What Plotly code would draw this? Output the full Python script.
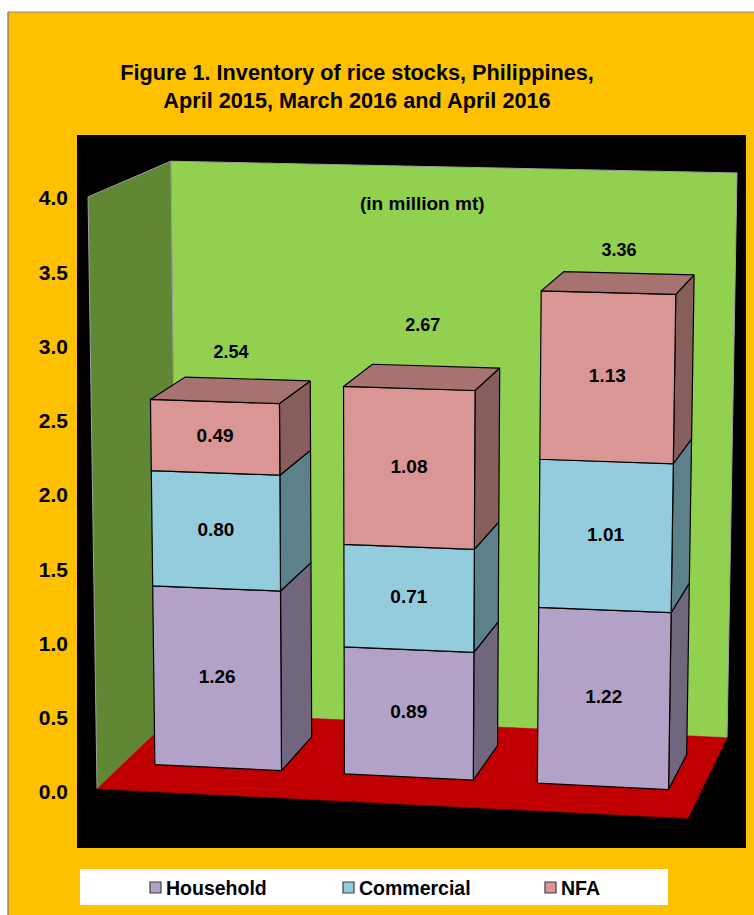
import numpy as np
import plotly.graph_objects as go

# ---------------- data ----------------
categories = ["April 2015", "March 2016", "April 2016"]
series_names = ["Household", "Commercial", "NFA"]
household = [1.26, 0.89, 1.22]
commercial = [0.80, 0.71, 1.01]
nfa = [0.49, 1.08, 1.13]
totals = [2.54, 2.67, 3.36]
y_tick_values = [0.0, 0.5, 1.0, 1.5, 2.0, 2.5, 3.0, 3.5, 4.0]
y_tick_labels = ["0.0", "0.5", "1.0", "1.5", "2.0", "2.5", "3.0", "3.5", "4.0"]
title_lines = ["Figure 1. Inventory of rice stocks, Philippines,",
               "April 2015, March 2016 and April 2016"]
unit_note = "(in million mt)"

series_values = [household, commercial, nfa]

# ---------------- styles / layout ----------------
FONT = "Liberation Sans, Arial, sans-serif"
ORANGE = "#FFC000"
FRONT = ["#B3A2C7", "#93CDDD", "#D99694"]
SIDE_F, TOP_F = 0.63, 0.77
BACK_WALL = "#92D050"
LEFT_WALL = "#5F8734"
FLOOR = "#C00000"

W, H = 754, 915
PLOT_L, PLOT_R, PLOT_T, PLOT_B = 77, 746, 135, 848
Y0_PIX, PIX_PER_UNIT = 792.0, 148.5   # y-axis: value 0 at pixel 792

# 3D scene: X in category units, Y in value units, Z depth (0 front, 1 back)
XL, XR, YTOP = -0.5, 2.5, 4.0
HW = 0.335           # half bar width (category units)
Z0, Z1 = 0.32, 0.76  # bar depth range
# projected frame corners (the box of walls and floor) used to calibrate the perspective
frame_world = [(XL, 0, 0), (XR, 0, 0), (XL, 0, 1), (XR, 0, 1),
               (XL, YTOP, 0), (XL, YTOP, 1), (XR, YTOP, 1)]
frame_screen = [(97, 788), (688, 819), (177, 713), (727, 737),
                (88, 197), (171, 161), (737, 173)]


def fit_projection(world, screen):
    cu, cv, s = 400.0, 500.0, 300.0
    rows = []
    for (X, Y, Z), (u, v) in zip(world, screen):
        un, vn = (u - cu) / s, (v - cv) / s
        rows.append([X, Y, Z, 1, 0, 0, 0, 0, -un * X, -un * Y, -un * Z, -un])
        rows.append([0, 0, 0, 0, X, Y, Z, 1, -vn * X, -vn * Y, -vn * Z, -vn])
    _, _, vt = np.linalg.svd(np.array(rows, dtype=float))
    P = vt[-1].reshape(3, 4)
    T = np.array([[s, 0, cu], [0, s, cv], [0, 0, 1.0]])
    return T @ P


PROJ = fit_projection(frame_world, frame_screen)


def project(X, Y, Z):
    h = PROJ @ np.array([X, Y, Z, 1.0])
    u, v = h[0] / h[2], h[1] / h[2]
    return u, (Y0_PIX - v) / PIX_PER_UNIT   # to axis units (x: screen px, y: value)


def shade(hex_color, f):
    r, g, b = int(hex_color[1:3], 16), int(hex_color[3:5], 16), int(hex_color[5:7], 16)
    return "rgb(%d,%d,%d)" % (r * f, g * f, b * f)


def px_x(px):
    return (px - PLOT_L) / (PLOT_R - PLOT_L)


def px_y(py):
    return (PLOT_B - py) / (PLOT_B - PLOT_T)


fig = go.Figure()


def face(pts, fill, line_color="black", width=1.2):
    xs, ys = [], []
    for p in list(pts) + [pts[0]]:
        x, y = project(*p)
        xs.append(x)
        ys.append(y)
    fig.add_trace(go.Scatter(x=xs, y=ys, mode="lines", fill="toself", fillcolor=fill,
                             line=dict(color=line_color, width=width),
                             hoverinfo="skip", showlegend=False))


# walls and floor
face([(XL, 0, 1), (XR, 0, 1), (XR, YTOP, 1), (XL, YTOP, 1)], BACK_WALL, "#A0A0A0", 1)
face([(XL, 0, 0), (XL, 0, 1), (XL, YTOP, 1), (XL, YTOP, 0)], LEFT_WALL, "#A0A0A0", 1)
face([(XL, 0, 0), (XR, 0, 0), (XR, 0, 1), (XL, 0, 1)], FLOOR, FLOOR, 0.5)

# bars
lab_x, lab_y, lab_t = [], [], []
for i, cat in enumerate(categories):
    x0, x1 = i - HW, i + HW
    base = 0.0
    for s, vals in enumerate(series_values):
        top = base + vals[i]
        col = FRONT[s]
        face([(x1, base, Z0), (x1, base, Z1), (x1, top, Z1), (x1, top, Z0)], shade(col, SIDE_F))
        face([(x0, base, Z0), (x1, base, Z0), (x1, top, Z0), (x0, top, Z0)], col)
        if s == len(series_values) - 1:
            face([(x0, top, Z0), (x1, top, Z0), (x1, top, Z1), (x0, top, Z1)], shade(col, TOP_F))
        cx, cy = project(i, (base + top) / 2, Z0)
        lab_x.append(cx)
        lab_y.append(cy)
        lab_t.append("%.2f" % vals[i])
        base = top

fig.add_trace(go.Scatter(x=lab_x, y=lab_y, text=lab_t, mode="text",
                         textfont=dict(family=FONT, size=19, color="black", weight="bold"),
                         hoverinfo="skip", showlegend=False))

# totals above bars
total_lift = [0.26, 0.36, 0.21]
tx, ty, tt = [], [], []
for i, t in enumerate(totals):
    x, y = project(i, t + total_lift[i], (Z0 + Z1) / 2)
    tx.append(x)
    ty.append(y)
    tt.append("%.2f" % t)
fig.add_trace(go.Scatter(x=tx, y=ty, text=tt, mode="text",
                         textfont=dict(family=FONT, size=18, color="black", weight="bold"),
                         hoverinfo="skip", showlegend=False))

# ---------------- decoration: page, legend ----------------
shapes = [
    dict(type="rect", xref="paper", yref="paper", x0=px_x(-5), x1=px_x(8), y0=px_y(920), y1=px_y(-5),
         fillcolor="white", line=dict(width=0), layer="above"),
    dict(type="rect", xref="paper", yref="paper", x0=px_x(-5), x1=px_x(760), y0=px_y(12), y1=px_y(-5),
         fillcolor="white", line=dict(width=0), layer="above"),
    dict(type="line", xref="paper", yref="paper", x0=px_x(8), x1=px_x(8), y0=px_y(12), y1=px_y(920),
         line=dict(color="#6E6E6E", width=1.2)),
    dict(type="line", xref="paper", yref="paper", x0=px_x(8), x1=px_x(760), y0=px_y(12), y1=px_y(12),
         line=dict(color="#8C8C8C", width=1.2)),
    dict(type="rect", xref="paper", yref="paper", x0=px_x(80), x1=px_x(668), y0=px_y(905), y1=px_y(869),
         fillcolor="white", line=dict(width=0)),
]
annotations = []
legend_marker_x = [150, 343, 545]
for s, name in enumerate(series_names):
    mx = legend_marker_x[s]
    shapes.append(dict(type="rect", xref="paper", yref="paper", x0=px_x(mx), x1=px_x(mx + 11),
                       y0=px_y(893), y1=px_y(882), fillcolor=FRONT[s],
                       line=dict(color="#3F3F3F", width=1.2)))
    annotations.append(dict(text=name, xref="paper", yref="paper", x=px_x(mx + 14), y=px_y(887.5),
                            xanchor="left", yanchor="middle", showarrow=False,
                            font=dict(family=FONT, size=19.5, color="black", weight="bold")))

annotations.append(dict(text=unit_note, xref="paper", yref="paper", x=px_x(422), y=px_y(203),
                        xanchor="center", yanchor="middle", showarrow=False,
                        font=dict(family=FONT, size=19, color="black", weight="bold")))

fig.update_layout(
    width=W, height=H,
    margin=dict(l=PLOT_L, r=W - PLOT_R, t=PLOT_T, b=H - PLOT_B, pad=0),
    paper_bgcolor=ORANGE, plot_bgcolor="black",
    title=dict(text="<br>".join(title_lines), x=357 / W, xanchor="center", xref="container",
               y=1 - 80 / H, yanchor="middle", yref="container",
               font=dict(family=FONT, size=21.7, color="black", weight="bold")),
    xaxis=dict(range=[PLOT_L, PLOT_R], visible=False, fixedrange=True),
    yaxis=dict(range=[(Y0_PIX - PLOT_B) / PIX_PER_UNIT, (Y0_PIX - PLOT_T) / PIX_PER_UNIT],
               tickvals=y_tick_values, ticktext=y_tick_labels, showgrid=False, zeroline=False,
               showline=False, ticks="", ticklabelstandoff=8,
               tickfont=dict(family=FONT, size=21, color="black", weight="bold")),
    shapes=shapes, annotations=annotations, showlegend=False,
)

fig.write_html("out.html", config={"displayModeBar": False},
               post_script="document.body.style.margin='0px';")
